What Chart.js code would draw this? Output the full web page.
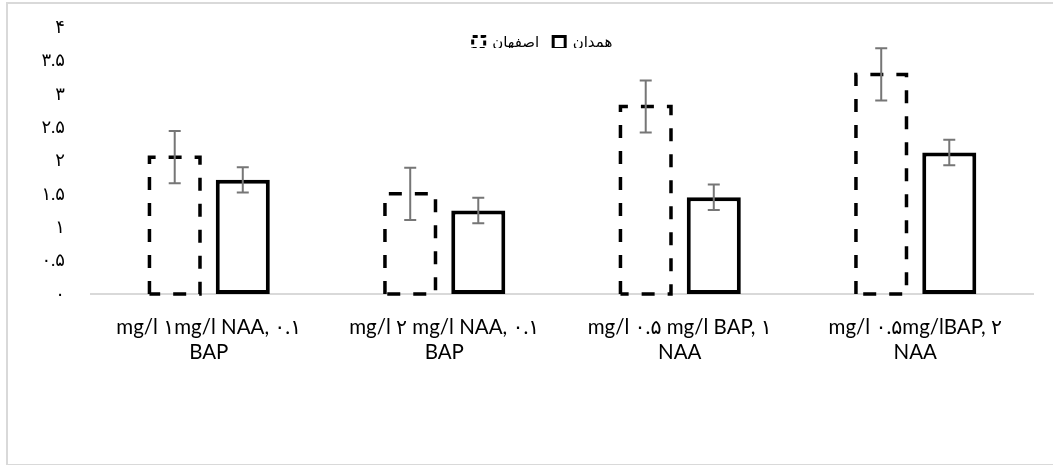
<!DOCTYPE html>
<html>
<head>
<meta charset="utf-8">
<script src="https://cdn.jsdelivr.net/npm/chart.js@4.4.1/dist/chart.umd.min.js"></script>
<style>
    body { margin: 0; background: #fff; }
    #wrap { position: absolute; left: 0; top: 0; width: 1053px; height: 465px; }
    #frame { position: absolute; left: 6px; top: 2px; width: 1060px; height: 460px; border: 2px solid #d9d9d9; pointer-events: none; }
</style>
</head>
<body>
<div id="wrap"><canvas id="barChart"></canvas></div>
<div id="frame"></div>
<script>
// data
const categories = [
    ['mg/l ۱mg/l NAA, ۰.۱', 'BAP'],
    ['mg/l ۲ mg/l NAA, ۰.۱', 'BAP'],
    ['mg/l ۰.۵ mg/l BAP, ۱', 'NAA'],
    ['mg/l ۰.۵mg/lBAP, ۲', 'NAA']
];
const seriesNames = ['اصفهان', 'همدان'];
const isfahanValues = [2.05, 1.50, 2.81, 3.29];
const isfahanErrors = [0.39, 0.39, 0.39, 0.39];
const hamedanValues = [1.71, 1.25, 1.45, 2.12];
const hamedanErrors = [0.19, 0.19, 0.19, 0.19];
const tickLabels = ['۰', '۰.۵', '۱', '۱.۵', '۲', '۲.۵', '۳', '۳.۵', '۴'];

const fontFamily = "Lato, 'DejaVu Sans', sans-serif";

// dashed outline for the first series + error bars
const extras = {
    id: 'extras',
    afterLayout(chart) {
        // legend sits inside the plot, a bit right of centre
        const lg = chart.legend;
        lg.top += 21; lg.bottom += 21;
        lg.left += 26; lg.right += 26;
    },
    afterDatasetsDraw(chart) {
        const ctx = chart.ctx;
        const yScale = chart.scales.y;

        ctx.save();
        ctx.strokeStyle = '#000';
        ctx.lineWidth = 3.5;
        ctx.setLineDash([13, 13]);
        chart.getDatasetMeta(0).data.forEach(bar => {
            const p = bar.getProps(['x', 'y', 'base', 'width'], true);
            const l = p.x - p.width / 2 + 1.75;
            const r = p.x + p.width / 2 - 1.75;
            ctx.beginPath();
            ctx.moveTo(l, p.base);
            ctx.lineTo(l, p.y);
            ctx.lineTo(r, p.y);
            ctx.lineTo(r, p.base);
            ctx.lineTo(l, p.base);
            ctx.stroke();
        });
        ctx.restore();

        const errs = [isfahanErrors, hamedanErrors];
        const vals = [isfahanValues, hamedanValues];
        ctx.save();
        ctx.strokeStyle = '#767676';
        ctx.lineWidth = 2;
        [0, 1].forEach(d => {
            chart.getDatasetMeta(d).data.forEach((bar, i) => {
                const x = bar.x;
                const hi = yScale.getPixelForValue(vals[d][i] + errs[d][i]);
                const lo = yScale.getPixelForValue(vals[d][i] - errs[d][i]);
                ctx.beginPath();
                ctx.moveTo(x, hi); ctx.lineTo(x, lo);
                ctx.moveTo(x - 6, hi); ctx.lineTo(x + 6, hi);
                ctx.moveTo(x - 6, lo); ctx.lineTo(x + 6, lo);
                ctx.stroke();
            });
        });
        ctx.restore();
    }
};

const ctxBar = document.getElementById('barChart').getContext('2d');
new Chart(ctxBar, {
    type: 'bar',
    data: {
        labels: categories,
        datasets: [{
            label: seriesNames[0],
            data: isfahanValues,
            backgroundColor: 'rgba(255,255,255,0)',
            borderWidth: 0,
            barPercentage: 0.794,
            categoryPercentage: 0.578
        }, {
            label: seriesNames[1],
            data: hamedanValues,
            backgroundColor: '#fff',
            borderColor: '#000',
            borderWidth: 4,
            borderSkipped: false,
            barPercentage: 0.794,
            categoryPercentage: 0.578
        }]
    },
    options: {
        responsive: true,
        maintainAspectRatio: false,
        animation: false,
        layout: {
            padding: {left: 0, right: 20, top: 0, bottom: 79}
        },
        scales: {
            x: {
                grid: {display: false, drawTicks: false},
                border: {display: true, color: '#d9d9d9', width: 2},
                ticks: {
                    color: '#000',
                    padding: 21,
                    maxRotation: 0,
                    autoSkip: false,
                    font: {family: fontFamily, size: 20.5, lineHeight: 1.22}
                }
            },
            y: {
                min: 0,
                max: 4,
                afterFit: function (scale) {
                    scale.width = 91;
                    scale.paddingTop = 0;
                    scale.paddingBottom = 0;
                },
                grid: {display: false, drawTicks: false},
                border: {display: false},
                ticks: {
                    stepSize: 0.5,
                    padding: 26,
                    color: '#000',
                    font: {family: fontFamily, size: 18},
                    callback: function (value, index) {
                        return tickLabels[index];
                    }
                }
            }
        },
        plugins: {
            tooltip: {enabled: false},
            legend: {
                display: true,
                position: 'top',
                align: 'center',
                maxHeight: 27,
                labels: {
                    color: '#000',
                    boxWidth: 12,
                    boxHeight: 12,
                    padding: 14,
                    font: {family: fontFamily, size: 15},
                    generateLabels: function () {
                        return [{
                            text: seriesNames[0],
                            fillStyle: '#fff',
                            strokeStyle: '#000',
                            lineWidth: 3,
                            lineDash: [5, 3],
                            hidden: false,
                            datasetIndex: 0
                        }, {
                            text: seriesNames[1],
                            fillStyle: '#fff',
                            strokeStyle: '#000',
                            lineWidth: 3,
                            hidden: false,
                            datasetIndex: 1
                        }];
                    }
                }
            }
        }
    },
    plugins: [extras]
});
</script>
</body>
</html>
